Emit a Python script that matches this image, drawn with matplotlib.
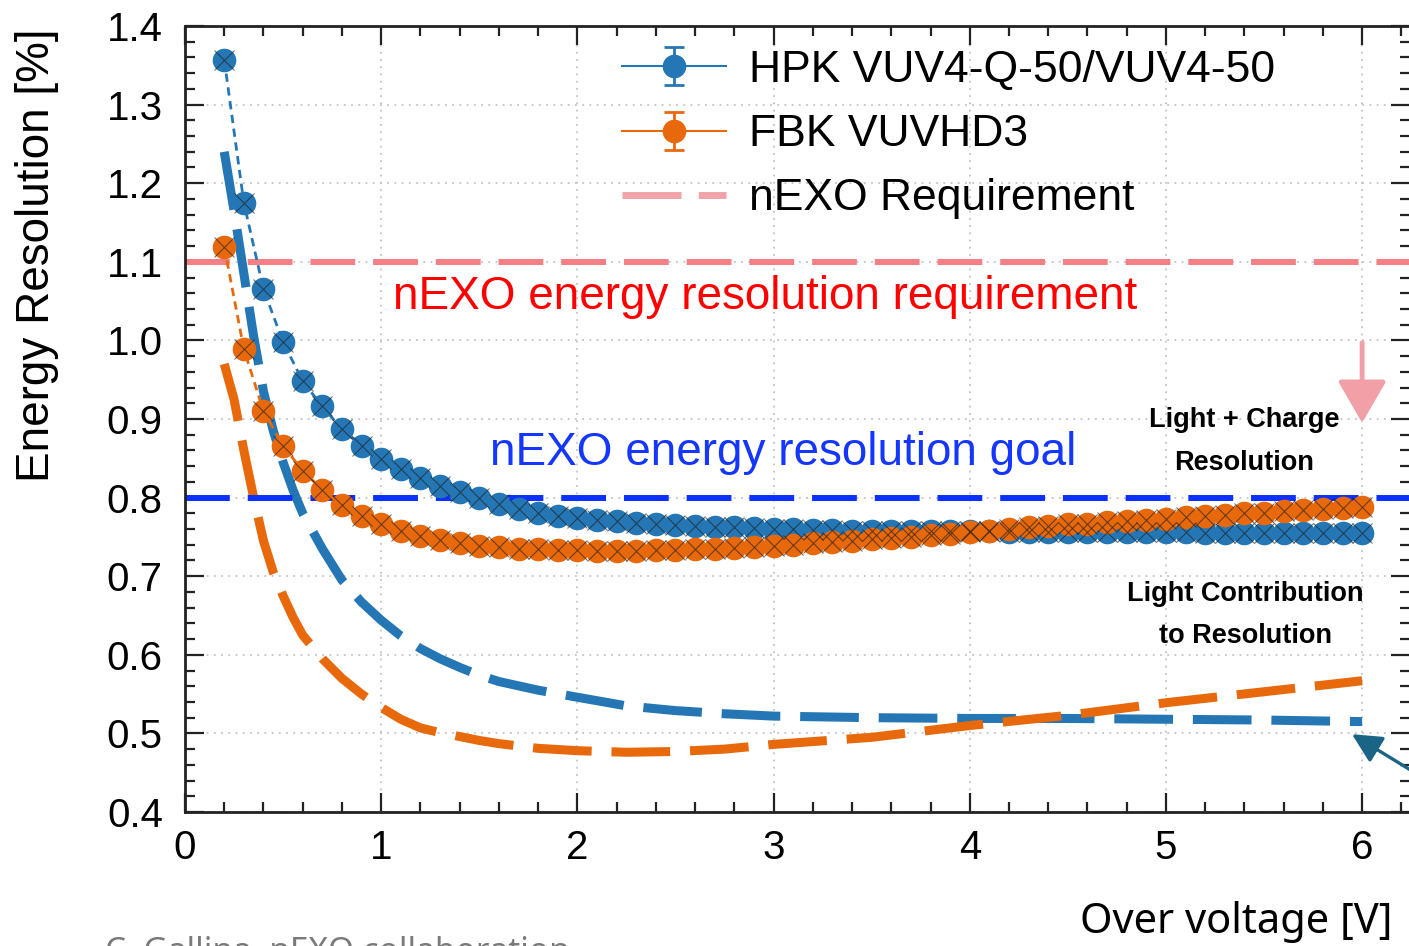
import matplotlib
matplotlib.use("Agg")
import matplotlib.pyplot as plt
from matplotlib.lines import Line2D
from matplotlib.path import Path
from matplotlib.legend_handler import HandlerTuple

plt.rcParams["font.family"] = ["Liberation Sans", "DejaVu Sans"]

# --------------------------------------------------
# Data
# --------------------------------------------------

overvoltage = [
    0.2, 0.3, 0.4, 0.5, 0.6, 0.7, 0.8, 0.9, 1.0, 1.1,
    1.2, 1.3, 1.4, 1.5, 1.6, 1.7, 1.8, 1.9, 2.0, 2.1,
    2.2, 2.3, 2.4, 2.5, 2.6, 2.7, 2.8, 2.9, 3.0, 3.1,
    3.2, 3.3, 3.4, 3.5, 3.6, 3.7, 3.8, 3.9, 4.0, 4.1,
    4.2, 4.3, 4.4, 4.5, 4.6, 4.7, 4.8, 4.9, 5.0, 5.1,
    5.2, 5.3, 5.4, 5.5, 5.6, 5.7, 5.8, 5.9, 6.0,
]

hpk_res = [
    1.357, 1.175, 1.065, 0.998, 0.948, 0.916, 0.887, 0.866, 0.849, 0.836,
    0.825, 0.815, 0.807, 0.799, 0.792, 0.786, 0.781, 0.777, 0.774, 0.772,
    0.770, 0.768, 0.766, 0.765, 0.764, 0.763, 0.762, 0.761, 0.760, 0.760,
    0.759, 0.759, 0.758, 0.758, 0.758, 0.757, 0.757, 0.757, 0.757, 0.757,
    0.756, 0.756, 0.756, 0.756, 0.756, 0.756, 0.756, 0.756, 0.756, 0.756,
    0.755, 0.755, 0.755, 0.755, 0.755, 0.755, 0.755, 0.755, 0.755,
]

fbk_res = [
    1.119, 0.989, 0.910, 0.866, 0.834, 0.810, 0.790, 0.776, 0.766, 0.758,
    0.751, 0.746, 0.742, 0.739, 0.737, 0.735, 0.734, 0.733, 0.733, 0.732,
    0.732, 0.732, 0.733, 0.733, 0.734, 0.735, 0.736, 0.737, 0.739, 0.740,
    0.742, 0.744, 0.745, 0.747, 0.749, 0.750, 0.752, 0.754, 0.756, 0.758,
    0.760, 0.762, 0.764, 0.766, 0.767, 0.769, 0.770, 0.772, 0.773, 0.775,
    0.777, 0.778, 0.780, 0.781, 0.783, 0.784, 0.786, 0.787, 0.788,
]

# light-only contribution curves
light_ov = [
    0.2, 0.25, 0.3, 0.35, 0.4, 0.45, 0.5, 0.55, 0.6, 0.7, 0.8, 0.9, 1.0, 1.1,
    1.2, 1.3, 1.4, 1.5, 1.6, 1.8, 2.0, 2.25, 2.5, 2.75, 3.0, 3.5, 4.0, 4.5,
    5.0, 5.5, 6.0,
]
hpk_light = [
    1.240, 1.165, 1.085, 1.005, 0.935, 0.885, 0.845, 0.810, 0.780, 0.735, 0.695, 0.667,
    0.644, 0.624, 0.608, 0.595, 0.584, 0.574, 0.566, 0.555, 0.546, 0.535, 0.529, 0.525,
    0.522, 0.520, 0.519, 0.519, 0.518, 0.517, 0.515,
]
fbk_light = [
    0.970, 0.925, 0.860, 0.800, 0.745, 0.705, 0.675, 0.648, 0.625, 0.595, 0.570, 0.550,
    0.533, 0.518, 0.507, 0.501, 0.496, 0.491, 0.487, 0.481, 0.478, 0.476, 0.477, 0.480,
    0.486, 0.495, 0.510, 0.523, 0.539, 0.553, 0.567,
]

requirement = 1.1
goal = 0.8

x_ticks = [0, 1, 2, 3, 4, 5, 6]
y_ticks = [0.4, 0.5, 0.6, 0.7, 0.8, 0.9, 1.0, 1.1, 1.2, 1.3, 1.4]
y_tick_labels = ["0.4", "0.5", "0.6", "0.7", "0.8", "0.9", "1.0", "1.1", "1.2", "1.3", "1.4"]

# --------------------------------------------------
# Figure
# --------------------------------------------------

blue = "#2477b4"
orange = "#e8680c"
W, H = 1409, 946

fig = plt.figure(figsize=(W / 100, H / 100), dpi=100)
ax = fig.add_axes([185 / W, 1 - 812 / H, (1410 - 185) / W, (812 - 26) / H])

ax.set_xlim(0, 6.244)
ax.set_ylim(0.4, 1.4)

ax.grid(True, which="major", color="#c4c4c4", linestyle=(0, (1, 3)), linewidth=1.3)
ax.axhline(1.0, xmax=0.73, color="white", linewidth=3, dashes=(14, 2), zorder=1.5)

# light contribution (dashed thick)
ax.plot(light_ov, hpk_light, color=blue, linewidth=6.5, dashes=(6.5, 2.2), zorder=2)
ax.plot(light_ov, fbk_light, color=orange, linewidth=6.5, dashes=(6.5, 2.2), zorder=2)

# requirement / goal lines
ax.axhline(requirement, color="#f47f84", linewidth=4.3, dashes=(7.5, 3.0), zorder=2.5)
ax.axhline(goal, color="#0b30ff", linewidth=4.3, dashes=(7.5, 3.0), zorder=2.5)

# measured light + charge resolution
for y, c in [(hpk_res, blue), (fbk_res, orange)]:
    ax.plot(overvoltage, y, color=c, linewidth=2, dashes=(3, 2), zorder=3)
    ax.plot(overvoltage, y, "o", color=c, markersize=17, markeredgewidth=0, zorder=3.2)
    ax.plot(overvoltage, y, "x", color="#1c1c1c", markersize=14, markeredgewidth=0.8,
            alpha=0.6, zorder=3.4)

# ticks
ax.set_xticks(x_ticks)
ax.set_xticks([v / 5 for v in range(0, 32)], minor=True)
ax.set_yticks(y_ticks)
ax.set_yticklabels(y_tick_labels)
ax.set_yticks([0.4 + v * 0.02 for v in range(0, 51)], minor=True)
ax.tick_params(which="both", direction="in", top=True, right=True, width=1.6, color="#222222")
ax.tick_params(which="major", length=14)
ax.tick_params(which="minor", length=7)
ax.tick_params(axis="x", which="major", labelsize=29, pad=12)
ax.tick_params(axis="y", which="major", labelsize=29, pad=16)
for s in ax.spines.values():
    s.set_linewidth(2)
    s.set_color("#222222")

# annotations
ax.text(2.956, 1.055, "nEXO energy resolution requirement", color="#ff0000",
        fontsize=33, ha="center", va="center")
ax.text(3.05, 0.857, "nEXO energy resolution goal", color="#1436ff",
        fontsize=33, ha="center", va="center")
ax.text(5.40, 0.899, "Light + Charge", fontsize=19.5, fontweight="bold", ha="center", va="center")
ax.text(5.40, 0.844, "Resolution", fontsize=19.5, fontweight="bold", ha="center", va="center")
ax.text(5.405, 0.677, "Light Contribution", fontsize=19.5, fontweight="bold", ha="center", va="center")
ax.text(5.405, 0.624, "to Resolution", fontsize=19.5, fontweight="bold", ha="center", va="center")

ax.annotate("", xy=(6.0, 0.895), xytext=(6.0, 0.997),
            arrowprops=dict(arrowstyle="-|>,head_length=1.3,head_width=0.75",
                            color="#f0a0a6", lw=3.5, mutation_scale=20, shrinkA=0, shrinkB=0),
            zorder=4)
ax.annotate("", xy=(5.948, 0.499), xytext=(6.40, 0.43),
            arrowprops=dict(arrowstyle="-|>,head_length=0.9,head_width=0.45",
                            color="#1a6585", lw=2.4, mutation_scale=20, shrinkA=0, shrinkB=0),
            annotation_clip=False, zorder=4)

# legend
cap_path = Path([(-0.5, 1), (0.5, 1), (0, 1), (0, -1), (-0.5, -1), (0.5, -1)],
                [Path.MOVETO, Path.LINETO, Path.MOVETO, Path.LINETO, Path.MOVETO, Path.LINETO])
h_hpk = (Line2D([], [], color=blue, lw=0, marker=cap_path, markersize=28,
                markerfacecolor="none", markeredgecolor=blue, markeredgewidth=2),
         Line2D([], [], color=blue, lw=1.5, marker="o", markersize=16))
h_fbk = (Line2D([], [], color=orange, lw=0, marker=cap_path, markersize=28,
                markerfacecolor="none", markeredgecolor=orange, markeredgewidth=2),
         Line2D([], [], color=orange, lw=1.5, marker="o", markersize=16))
h_req = Line2D([], [], color="#f0a3a8", lw=5, dashes=(8.5, 2.5))
leg = fig.legend([h_hpk, h_fbk, h_req],
                 ["HPK VUV4-Q-50/VUV4-50", "FBK VUVHD3", "nEXO Requirement"],
                 handler_map={tuple: HandlerTuple(ndivide=1)},
                 loc="upper left", bbox_to_anchor=(622 / W, 1 - 50 / H),
                 frameon=False, fontsize=32, handlelength=2.35, handletextpad=0.5,
                 labelspacing=0.52, borderpad=0, borderaxespad=0)

# axis labels
fig.text(37 / W, 1 - 255 / H, "Energy Resolution [%]", rotation=90, fontsize=33,
         ha="center", va="center")
fig.text(1392 / W, 1 - 922 / H, "Over voltage [V]", fontsize=30, family="Noto Sans",
         ha="right", va="center")
fig.text(105 / W, 1 - 936 / H, "C. Gallina, nEXO collaboration", fontsize=24,
         family="Noto Sans", color="#7a7a7a", ha="left", va="top")

fig.savefig("out.png", dpi=100)
